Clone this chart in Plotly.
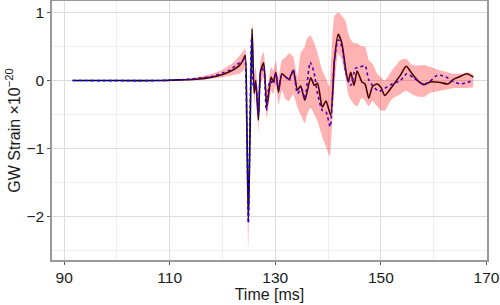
import plotly.graph_objects as go

# ---- data ----
t_black = [91.6, 100, 108, 112, 115, 118, 120, 121.3, 122.5, 123.3, 123.9, 124.3, 124.6, 124.9, 125.25,
           125.6, 126.0, 126.3, 126.8, 127.2, 127.8, 128.4, 129.2, 129.6, 130.1, 130.6, 131.25, 132.0,
           132.6, 133.4, 134.2, 134.8, 135.6, 136.7, 137.4, 138.0, 138.9, 139.6, 140.5, 141.2, 141.9,
           142.6, 143.3, 143.8, 144.3, 144.9, 145.5, 146.4, 147.0, 147.7, 148.4, 149.3, 150.0, 150.75,
           152.1, 153.7, 154.8, 155.9, 157.2, 158.2, 159.4, 161.3, 162.7, 163.8, 165.0, 166.3, 167.5]
v_black = [0, 0, 0, 0.01, 0.02, 0.05, 0.09, 0.13, 0.18, 0.23, 0.30, 0.37, -0.6, -2.08, -0.6,
           0.76, -0.19, 0.0, -0.58, 0.13, 0.26, -0.39, 0.05, -0.02, 0.12, -0.17, 0.10, 0.05,
           0.02, 0.15, -0.14, -0.08, -0.29, 0.04, -0.07, -0.04, -0.39, -0.30, -0.51, 0.30, 0.68,
           0.55, 0.18, -0.02, 0.12, -0.07, 0.14, -0.02, -0.05, -0.26, -0.09, -0.05, -0.10, -0.22,
           -0.09, 0.08, 0.21, 0.10, -0.02, -0.06, -0.02, -0.03, -0.05, 0.02, 0.06, 0.10, 0.05]

t_blue = [91.6, 108, 112, 116, 118, 120, 121.3, 123.2, 124.2, 124.45, 124.9, 125.2, 125.5, 125.9,
          126.3, 126.8, 127.2, 127.8, 128.3, 129.0, 129.6, 130.1, 130.6, 131.2, 132.0, 132.6, 133.4,
          134.2, 135.0, 135.6, 136.6, 137.3, 138.0, 138.9, 139.6, 140.4, 141.2, 141.9, 142.6, 143.4,
          144.3, 145.2, 146.1, 147.0, 147.7, 148.7, 149.7, 150.6, 152.1, 153.7, 154.9, 156.2, 157.9,
          159.0, 160.7, 162.2, 163.8, 165.0, 167.5]
v_blue = [0, 0, 0.01, 0.04, 0.06, 0.11, 0.15, 0.26, 0.31, 0.0, -2.1, -0.6, 0.62, -0.10,
          -0.05, -0.50, 0.10, 0.20, -0.44, 0.0, -0.05, 0.10, -0.12, 0.08, 0.05, 0.0, 0.16,
          -0.19, -0.12, -0.27, 0.27, 0.13, -0.19, -0.44, -0.46, -0.68, 0.30, 0.60, 0.50, 0.10,
          -0.07, 0.18, 0.20, 0.22, 0.01, -0.10, -0.16, -0.12, -0.05, 0.0, 0.10, 0.04, -0.05,
          -0.03, 0.08, 0.06, -0.02, -0.05, 0.0]

t_band = [91.6, 110, 114, 116, 118, 120, 122, 123.2, 124.0, 124.3, 124.6, 124.9, 125.25, 125.6,
          126.0, 126.3, 126.8, 127.2, 127.8, 128.4, 129.2, 129.6, 130.1, 130.6, 131.25, 132.0, 132.6,
          133.4, 134.2, 134.8, 135.6, 136.0, 136.7, 137.4, 138.0, 138.9, 139.6, 140.3, 140.5, 141.2,
          141.9, 142.6, 143.3, 143.8, 144.3, 144.9, 145.5, 146.4, 147.0, 147.7, 148.4, 149.3, 150.0,
          150.75, 152.1, 153.7, 154.8, 155.9, 157.2, 158.2, 159.4, 161.3, 162.7, 163.8, 165.0, 166.3,
          167.5]
band_lo = [0, -0.005, 0.0, 0.01, 0.03, 0.05, 0.08, 0.10, 0.15, 0.20, -1.0, -2.46, -0.9, 0.50,
           -0.35, -0.15, -0.75, -0.05, 0.05, -0.55, -0.15, -0.20, -0.05, -0.35, -0.15, -0.28, -0.30,
           -0.20, -0.40, -0.50, -0.63, -0.50, -0.40, -0.50, -0.60, -0.83, -0.97, -1.12, -1.0, -0.10,
           0.40, 0.30, 0.06, -0.20, -0.28, -0.35, -0.38, -0.25, -0.30, -0.38, -0.30, -0.38, -0.44,
           -0.44, -0.27, -0.20, -0.15, -0.20, -0.24, -0.24, -0.18, -0.15, -0.13, -0.11, -0.11, -0.11,
           -0.10]
band_hi = [0, 0.005, 0.03, 0.06, 0.10, 0.16, 0.26, 0.36, 0.44, 0.48, -0.2, -1.9, -0.3, 0.86,
           0.10, 0.20, -0.35, 0.30, 0.42, -0.15, 0.20, 0.15, 0.28, 0.05, 0.30, 0.35, 0.40,
           0.35, 0.05, 0.40, 0.50, 0.62, 0.66, 0.55, 0.40, 0.15, 0.03, -0.09, 0.20, 0.95,
           1.0, 0.95, 0.88, 0.70, 0.60, 0.55, 0.55, 0.50, 0.50, 0.30, 0.25, 0.10, 0.05,
           0.0, 0.15, 0.30, 0.32, 0.23, 0.22, 0.23, 0.20, 0.15, 0.12, 0.10, 0.10, 0.12,
           0.10]

x_ticks = [90, 110, 130, 150, 170]
y_ticks = [-2, -1, 0, 1]

FONT = "Liberation Sans, Arial, Helvetica, sans-serif"

fig = go.Figure()
fig.add_trace(go.Scatter(x=t_black, y=v_black, mode="lines",
                         line=dict(color="black", width=1.6, shape="spline", smoothing=0.6),
                         showlegend=False, hoverinfo="skip"))
fig.add_trace(go.Scatter(x=t_blue, y=v_blue, mode="lines",
                         line=dict(color="#0000ff", width=1.6, dash="dot", shape="spline", smoothing=0.6),
                         showlegend=False, hoverinfo="skip"))
fig.add_trace(go.Scatter(x=t_band, y=band_lo, mode="lines",
                         line=dict(width=0, shape="spline", smoothing=0.5),
                         showlegend=False, hoverinfo="skip"))
fig.add_trace(go.Scatter(x=t_band, y=band_hi, mode="lines", fill="tonexty",
                         fillcolor="rgba(255,0,0,0.3)",
                         line=dict(width=0, shape="spline", smoothing=0.5),
                         showlegend=False, hoverinfo="skip"))

axis_common = dict(
    showline=True, linecolor="#999999", linewidth=1.5, mirror=True,
    showgrid=True, gridcolor="#dcdcdc", gridwidth=1,
    ticks="outside", ticklen=3, tickcolor="#555555", tickwidth=1,
    tickfont=dict(family=FONT, size=15.5, color="#1a1a1a"),
    zeroline=False, automargin=False, ticklabeloverflow="allow",
)

fig.update_layout(
    width=500, height=305,
    margin=dict(l=52, r=13, t=1, b=45, autoexpand=False),
    paper_bgcolor="white", plot_bgcolor="white",
    font=dict(family=FONT, size=15.5, color="#1a1a1a"),
    xaxis=dict(range=[87.7, 170.1], tickvals=x_ticks, ticktext=[str(v) for v in x_ticks],
               minor=dict(dtick=10, tick0=0, showgrid=True, gridcolor="#eeeeee", ticks=""),
               title=dict(text="Time [ms]", font=dict(family=FONT, size=16), standoff=0),
               **axis_common),
    yaxis=dict(range=[-2.64, 1.17], tickvals=y_ticks,
               ticktext=["\u22122", "\u22121", "0", "1"],
               minor=dict(dtick=0.5, tick0=0.5, showgrid=True, gridcolor="#eeeeee", ticks=""),
               title=dict(text="GW Strain \u00d710<sup>\u221220</sup>", font=dict(family=FONT, size=16),
                          standoff=2),
               **axis_common),
)

fig.write_html("out.html",
               config={"displayModeBar": False},
               post_script="document.body.style.margin='0';document.body.style.overflow='hidden';")
